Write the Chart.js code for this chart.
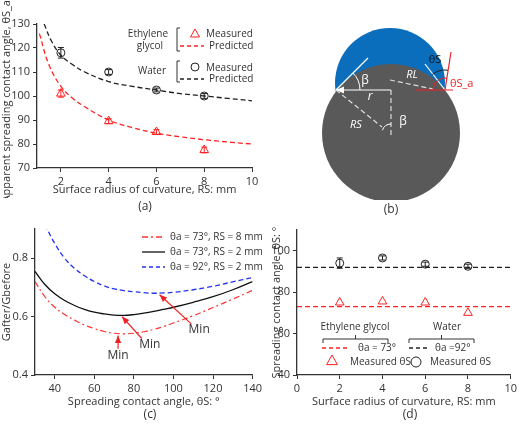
<!DOCTYPE html>
<html><head><meta charset="utf-8">
<script src="https://cdn.jsdelivr.net/npm/chart.js@4/dist/chart.umd.min.js"></script>
<style>
body{margin:0;background:#fff;width:520px;height:425px;position:relative;overflow:hidden;font-family:"Open Sans",sans-serif}
canvas{position:absolute}
.cap{position:absolute;font:12px "Open Sans";color:#333;transform:translateX(-50%)}
</style></head><body>
<canvas id="ca" width="265" height="198" style="left:0;top:0"></canvas>
<canvas id="cb" width="220" height="200" style="left:300px;top:0"></canvas>
<canvas id="cc" width="265" height="195" style="left:0;top:215px"></canvas>
<canvas id="cd" width="250" height="195" style="left:270px;top:215px"></canvas>
<div class="cap" style="left:145px;top:197px">(a)</div>
<div class="cap" style="left:391px;top:200px">(b)</div>
<div class="cap" style="left:150px;top:405px">(c)</div>
<div class="cap" style="left:410px;top:405px">(d)</div>
<script>
// ---- data (a)
const aPredX_EG=[1.1,1.5,2,2.5,3,4,5,6,7,8,9,10];
const aPredY_EG=[126,113,104,99,95.5,90,86.8,84.5,83,81.8,80.8,80];
const aPredX_W=[1.3,1.6,2,2.5,3,4,5,6,7,8,9,10];
const aPredY_W=[130,123,117,113,110,106,104,102.5,101,100,99,98];
const aMeasX=[2,4,6,8];
const aMeasEG=[101,89.5,85,77.5];
const aErrEG=[1.5,1,1,1.2];
const aMeasW=[118,110,102.5,100];
const aErrW=[2.2,1,0.8,1];
// ---- data (c)
const cX=[30,35,40,45,50,55,60,65,70,75,80,85,90,95,100,110,120,130,140];
const cBlue=[null,0.915,0.85,0.8,0.765,0.74,0.72,0.705,0.695,0.689,0.685,0.682,0.68,0.681,0.683,0.692,0.704,0.719,0.734];
const cBlack=[0.755,0.71,0.678,0.655,0.638,0.625,0.615,0.609,0.605,0.604,0.607,0.612,0.618,0.625,0.632,0.649,0.668,0.692,0.72];
const cRed=[0.72,0.668,0.632,0.607,0.588,0.571,0.559,0.549,0.543,0.541,0.543,0.548,0.556,0.566,0.578,0.603,0.631,0.66,0.69];
// ---- data (d)
const dX=[2,4,6,8];
const dEG=[75,75.5,75,70];
const dW=[94,96.5,93.5,92.5];
const dErrW=[2.5,1,1,1];
const dThetaEG=73, dThetaW=92;

const AX='#333', F='"Open Sans",sans-serif';
Chart.defaults.font.family=F;Chart.defaults.font.size=11;Chart.defaults.color=AX;
Chart.defaults.animation=false;Chart.defaults.responsive=false;Chart.defaults.devicePixelRatio=1;
const pts=(xs,ys)=>xs.map((x,i)=>({x,y:ys[i]}));
function axis(min,max,step,title,extra){return Object.assign({type:'linear',min,max,
  ticks:{stepSize:step,color:AX,font:{size:11}},
  grid:{display:true,drawOnChartArea:false,drawTicks:true,tickLength:4,color:AX},
  border:{color:AX,width:1.3},
  title:{display:true,text:title,color:AX,font:{size:11},padding:{top:0,bottom:2}}},extra||{});}
function errPlugin(id,specs){return {id,afterDatasetsDraw(ch){const c=ch.ctx,x=ch.scales.x,y=ch.scales.y;
  specs.forEach(s=>{c.strokeStyle=s.color;c.lineWidth=1;s.xs.forEach((v,i)=>{const px=x.getPixelForValue(v),
  y1=y.getPixelForValue(s.ys[i]-s.err[i]),y2=y.getPixelForValue(s.ys[i]+s.err[i]);
  c.beginPath();c.moveTo(px,y1);c.lineTo(px,y2);c.moveTo(px-3,y1);c.lineTo(px+3,y1);c.moveTo(px-3,y2);c.lineTo(px+3,y2);c.stroke();});});}};}
function txt(c,s,x,y,col,al,sz,it){c.fillStyle=col||AX;c.textAlign=al||'left';c.textBaseline='middle';c.font=(it?'italic ':'')+(sz||10)+'px '+F;c.fillText(s,x,y);}
function dash(c,x1,x2,y,col,d){c.save();c.strokeStyle=col;c.lineWidth=1.3;c.setLineDash(d||[4,3]);c.beginPath();c.moveTo(x1,y);c.lineTo(x2,y);c.stroke();c.restore();}
function tri(c,x,y,r,col){c.strokeStyle=col;c.lineWidth=1;c.beginPath();c.moveTo(x,y-r);c.lineTo(x+r*0.9,y+r*0.6);c.lineTo(x-r*0.9,y+r*0.6);c.closePath();c.stroke();}
function circ(c,x,y,r,col){c.strokeStyle=col;c.lineWidth=1;c.beginPath();c.arc(x,y,r,0,7);c.stroke();}
function bracket(c,x,y1,y2){c.strokeStyle=AX;c.lineWidth=1;c.beginPath();c.moveTo(x+3,y1);c.lineTo(x,y1);c.lineTo(x,y2);c.lineTo(x+3,y2);c.stroke();}

// ---- chart (a)
new Chart(document.getElementById('ca'),{type:'scatter',
 data:{datasets:[
  {data:pts(aPredX_EG,aPredY_EG),showLine:true,borderColor:'#f22',borderDash:[5,3],borderWidth:1.3,pointRadius:0,tension:0.4},
  {data:pts(aPredX_W,aPredY_W),showLine:true,borderColor:'#222',borderDash:[5,3],borderWidth:1.3,pointRadius:0,tension:0.4},
  {data:pts(aMeasX,aMeasEG),pointStyle:'triangle',pointRadius:5,borderColor:'#f22',backgroundColor:'rgba(0,0,0,0)',borderWidth:1},
  {data:pts(aMeasX,aMeasW),pointStyle:'circle',pointRadius:4,borderColor:'#222',backgroundColor:'rgba(0,0,0,0)',borderWidth:1}]},
 options:{layout:{padding:{top:24,right:13,left:0,bottom:0}},plugins:{legend:{display:false},tooltip:{enabled:false}},
  scales:{x:axis(1,10,2,'Surface radius of curvature, RS: mm',{afterBuildTicks:s=>{s.ticks=[2,4,6,8,10].map(v=>({value:v}))},afterFit:s=>{s.height=30}}),
   y:axis(70,130,10,'Apparent spreading contact angle, θS_a: °',{afterFit:s=>{s.width=37}})}},
 plugins:[errPlugin('ea',[{xs:aMeasX,ys:aMeasEG,err:aErrEG,color:'#f22'},{xs:aMeasX,ys:aMeasW,err:aErrW,color:'#222'}]),
  {id:'lega',afterDraw(ch){const c=ch.ctx;
   txt(c,'Ethylene',168,34,AX,'right');txt(c,'glycol',163,46,AX,'right');bracket(c,177,28,51);
   tri(c,195,34,5,'#f22');txt(c,'Measured',206,34);dash(c,180,204,46,'#f22');txt(c,'Predicted',209,46);
   txt(c,'Water',166,71,AX,'right');bracket(c,177,61,82);
   circ(c,195,67,4,'#222');txt(c,'Measured',206,68);dash(c,180,204,79,'#222');txt(c,'Predicted',209,79);}}]});

// ---- diagram (b): geometry in diagram units (px-like), mapped through scales
const bGrey=[91,133,69], bBlue=[90,83,55], bLeftPt=[36,90], bRightPt=[145,90], bCenter=[91,90];
new Chart(document.getElementById('cb'),{type:'scatter',data:{datasets:[{data:[]}]},
 options:{layout:{padding:0},plugins:{legend:{display:false},tooltip:{enabled:false}},
  scales:{x:{type:'linear',min:0,max:220,display:false},y:{type:'linear',min:0,max:200,reverse:true,display:false}}},
 plugins:[{id:'diag',afterDraw(ch){const c=ch.ctx,X=v=>ch.scales.x.getPixelForValue(v),Y=v=>ch.scales.y.getPixelForValue(v);
  c.fillStyle='#0a6ebd';c.beginPath();c.arc(X(bBlue[0]),Y(bBlue[1]),bBlue[2],0,7);c.fill();
  c.fillStyle='#595959';c.beginPath();c.arc(X(bGrey[0]),Y(bGrey[1]),bGrey[2],0,7);c.fill();
  const L=(a,b,col,d,w)=>{c.save();c.strokeStyle=col;c.lineWidth=w||1.2;c.setLineDash(d||[]);c.beginPath();c.moveTo(X(a[0]),Y(a[1]));c.lineTo(X(b[0]),Y(b[1]));c.stroke();c.restore();};
  L(bLeftPt,bCenter,'#fff');
  c.fillStyle='#fff';c.beginPath();c.moveTo(X(36),Y(90));c.lineTo(X(44),Y(86.5));c.lineTo(X(44),Y(93.5));c.fill();
  L(bCenter,[91,135],'#ddd',[5,3]);L(bLeftPt,[82,127],'#ddd',[5,3]);L([90,80],[133,89],'#ddd',[5,3]);
  L(bLeftPt,[68,58],'#fff');L([125,64],bRightPt,'#fff');
  L([116,90],[153,90],'#e22');L(bRightPt,[151,52],'#e22');
  c.strokeStyle='#fff';c.lineWidth=1;c.beginPath();c.arc(X(36),Y(90),24,-Math.PI/4,0);c.stroke();
  c.beginPath();c.arc(X(91),Y(133),9,Math.PI*1.5,Math.PI*1.1,true);c.stroke();
  c.strokeStyle='#222';c.beginPath();c.arc(X(145),Y(90),20,-Math.PI*0.72,-Math.PI*0.45);c.stroke();
  c.strokeStyle='#e22';c.beginPath();c.arc(X(145),Y(90),12,-Math.PI*0.45,-Math.PI,true);c.stroke();
  txt(c,'β',65,81,'#fff','center',12);txt(c,'r',70,97,'#fff','center',12,true);txt(c,'β',103,122,'#fff','center',12);
  txt(c,'RS',56,125,'#fff','center',11,true);txt(c,'RL',112,75,'#fff','center',11,true);
  txt(c,'θS',135,60,'#111','center',11);txt(c,'θS_a',150,84,'#e22','left',11);}}]});

// ---- chart (c)
new Chart(document.getElementById('cc'),{type:'line',
 data:{datasets:[
  {data:pts(cX,cRed),borderColor:'#f33',borderDash:[6,3,2,3],borderWidth:1.2,pointRadius:0,tension:0.4},
  {data:pts(cX,cBlack),borderColor:'#111',borderWidth:1.3,pointRadius:0,tension:0.4},
  {data:pts(cX,cBlue),borderColor:'#2233ee',borderDash:[5,3],borderWidth:1.3,pointRadius:0,tension:0.4}]},
 options:{layout:{padding:{top:14,right:6}},plugins:{legend:{display:false},tooltip:{enabled:false}},
  scales:{x:axis(30,140,20,'Spreading contact angle, θS: °',{afterBuildTicks:s=>{s.ticks=[40,60,80,100,120,140].map(v=>({value:v}))},afterFit:s=>{s.height=35}}),
   y:axis(0.4,0.9,0.2,'Gafter/Gbefore',{afterBuildTicks:s=>{s.ticks=[0.4,0.6,0.8].map(v=>({value:v}))},ticks:{color:AX,callback:v=>v.toFixed(1)},afterFit:s=>{s.width=35}})}},
 plugins:[{id:'legc',afterDraw(ch){const c=ch.ctx,X=v=>ch.scales.x.getPixelForValue(v),Y=v=>ch.scales.y.getPixelForValue(v);
  dash(c,142,165,22,'#f33',[6,3,2,3]);txt(c,'θa = 73°, RS = 8 mm',170,22);
  dash(c,142,165,37,'#111',[]);txt(c,'θa = 73°, RS = 2 mm',170,37);
  dash(c,142,165,52,'#2233ee');txt(c,'θa = 92°, RS = 2 mm',170,52);
  const arr=(x1,y1,x2,y2)=>{const a=X(x1),b=Y(y1),p=X(x2),q=Y(y2),ang=Math.atan2(q-b,p-a);
   c.strokeStyle='#e22';c.fillStyle='#e22';c.lineWidth=1.2;c.beginPath();c.moveTo(a,b);c.lineTo(p,q);c.stroke();
   c.beginPath();c.moveTo(p,q);c.lineTo(p-8*Math.cos(ang-0.4),q-8*Math.sin(ang-0.4));c.lineTo(p-8*Math.cos(ang+0.4),q-8*Math.sin(ang+0.4));c.fill();};
  arr(72,0.49,72,0.535);arr(84,0.525,74,0.6);arr(109,0.575,93,0.675);
  txt(c,'Min',X(72),Y(0.465),AX,'center',12);txt(c,'Min',X(88),Y(0.505),AX,'center',12);txt(c,'Min',X(113),Y(0.555),AX,'center',12);}}]});

// ---- chart (d)
new Chart(document.getElementById('cd'),{type:'scatter',
 data:{datasets:[
  {data:[{x:0,y:dThetaEG},{x:10,y:dThetaEG}],showLine:true,borderColor:'#f22',borderDash:[5,3],borderWidth:1.3,pointRadius:0},
  {data:[{x:0,y:dThetaW},{x:10,y:dThetaW}],showLine:true,borderColor:'#222',borderDash:[5,3],borderWidth:1.3,pointRadius:0},
  {data:pts(dX,dEG),pointStyle:'triangle',pointRadius:5,borderColor:'#f22',backgroundColor:'rgba(0,0,0,0)',borderWidth:1},
  {data:pts(dX,dW),pointStyle:'circle',pointRadius:4,borderColor:'#222',backgroundColor:'rgba(0,0,0,0)',borderWidth:1}]},
 options:{layout:{padding:{top:15,right:2}},plugins:{legend:{display:false},tooltip:{enabled:false}},
  scales:{x:axis(0,10,2,'Surface radius of curvature, RS: mm',{afterFit:s=>{s.height=35}}),
   y:axis(40,110,20,'Spreading contact angle, θS: °',{afterBuildTicks:s=>{s.ticks=[40,60,80,100].map(v=>({value:v}))},afterFit:s=>{s.width=27}})}},
 plugins:[errPlugin('ed',[{xs:dX,ys:dW,err:dErrW,color:'#222'}]),
  {id:'legd',afterDraw(ch){const c=ch.ctx;
   txt(c,'Ethylene glycol',85,112,AX,'center',10);txt(c,'Water',177,112,AX,'center',10);
   c.strokeStyle=AX;c.lineWidth=1;[[53,118],[139,204]].forEach(([a,b])=>{c.beginPath();c.moveTo(a,128);c.lineTo(a,124);c.lineTo(b,124);c.lineTo(b,128);c.moveTo((a+b)/2,124);c.lineTo((a+b)/2,120);c.stroke();});
   dash(c,52,80,133,'#f22');txt(c,'θa = 73°',88,133);dash(c,139,160,133,'#222');txt(c,'θa =92°',165,133);
   tri(c,62,146,6,'#f22');txt(c,'Measured θS',80,147);circ(c,146,147,5,'#222');txt(c,'Measured θS',160,147);}}]});
</script></body></html>
